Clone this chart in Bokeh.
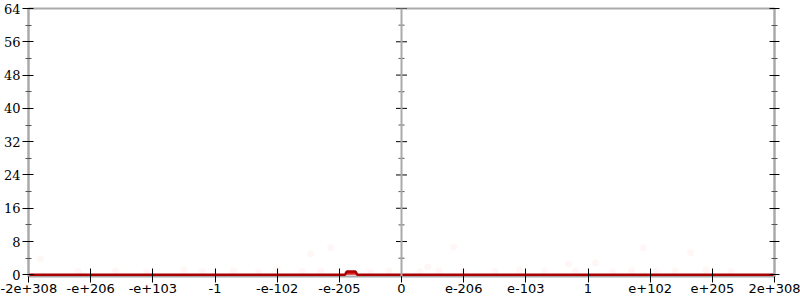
from bokeh.plotting import figure
from bokeh.models import LinearAxis, Span, Range1d, FixedTicker
from bokeh.embed import file_html
from bokeh.resources import INLINE

# x positions are in "tick index" units along an ordered double-value axis
tick_pos = [-6, -5, -4, -3, -2, -1, 0, 1, 2, 3, 4, 5, 6]
tick_labels = ["-2e+308", "-e+206", "-e+103", "-1", "-e-102", "-e-205", "0",
               "e-206", "e-103", "1", "e+102", "e+205", "2e+308"]
y_major = [0, 8, 16, 24, 32, 40, 48, 56, 64]
y_minor = [4, 12, 20, 28, 36, 44, 52, 60]

# histogram line (counts)
line_x = [-6.0, -0.91, -0.88, -0.74, -0.71, 6.0]
line_y = [0.0, 0.0, 0.8, 0.8, 0.0, 0.0]

# faint sample points
pts_x = [-5.81, 3.89, 4.65, 2.69, 3.12, -1.46, -1.14, 0.84, 0.42,
         -5.2, -4.6, -4.1, -3.5, -3.2, -2.7, -2.3, -2.0, -1.6, -1.3, -0.5,
         -0.2, 0.3, 0.6, 1.0, 1.5, 1.9, 2.3, 2.8, 3.4, 3.7, 4.1, 4.4, 4.9, 5.3]
pts_y = [3.85, 6.5, 5.3, 2.6, 2.9, 5.05, 6.5, 6.7, 1.9,
         0.8, 0.9, 0.7, 1.2, 0.8, 0.9, 0.7, 1.3, 0.8, 0.9, 0.7,
         1.0, 0.8, 0.9, 0.7, 0.8, 1.1, 0.8, 0.9, 0.7, 1.0, 0.8, 0.9, 1.2, 0.8]

p = figure(width=800, height=300, output_backend="svg", toolbar_location=None,
           x_range=Range1d(-6, 6), y_range=Range1d(-0.4, 64),
           min_border_left=28, min_border_right=26, min_border_top=8,
           min_border_bottom=24, x_axis_location=None, y_axis_location=None)
p.grid.visible = False
p.outline_line_color = "#aaaaaa"
p.outline_line_width = 2
p.background_fill_color = "white"
p.border_fill_color = "white"

def style(ax, serif=False):
    ax.axis_line_color = "#aaaaaa"
    ax.axis_line_width = 2
    ax.major_tick_line_color = "black"
    ax.minor_tick_line_color = "#555555"
    ax.major_tick_in = 5
    ax.major_tick_out = 6
    ax.minor_tick_in = 3
    ax.minor_tick_out = 3
    ax.major_label_text_font = "DejaVu Serif" if serif else "DejaVu Sans"
    ax.major_label_text_font_size = "13px"
    ax.major_label_text_color = "black"
    ax.major_label_standoff = 2

ly = LinearAxis(ticker=FixedTicker(ticks=y_major, minor_ticks=y_minor))
style(ly, serif=True)
p.add_layout(ly, "left")
ry = LinearAxis(ticker=FixedTicker(ticks=y_major, minor_ticks=y_minor))
style(ry)
ry.major_tick_out = 5
ry.major_label_text_alpha = 0
ry.major_label_standoff = 0
p.add_layout(ry, "right")
bx = LinearAxis(ticker=FixedTicker(ticks=tick_pos, minor_ticks=[]))
style(bx)
bx.axis_line_color = "#aa0000"
bx.axis_line_width = 0
bx.major_tick_in = 8
bx.major_tick_out = 6
bx.major_label_standoff = 1
bx.major_label_overrides = {t: s for t, s in zip(tick_pos, tick_labels)}
p.add_layout(bx, "below")

# central y axis at x = 0
p.add_layout(Span(location=0, dimension="height", line_color="#aaaaaa", line_width=2))
p.scatter(x=[0] * len(y_major), y=y_major, marker="dash", size=11, line_color="black", line_width=1)
p.scatter(x=[0] * len(y_minor), y=y_minor, marker="dash", size=6, line_color="#555555", line_width=1)

p.scatter(pts_x, pts_y, size=7, fill_color="red", line_color=None, fill_alpha=0.035)
p.varea(x=line_x, y1=[0] * len(line_x), y2=line_y, fill_color="#e02020")
p.line(line_x, line_y, line_color="#aa0000", line_width=2.5)

open("out.html", "w").write(file_html(p, INLINE))
